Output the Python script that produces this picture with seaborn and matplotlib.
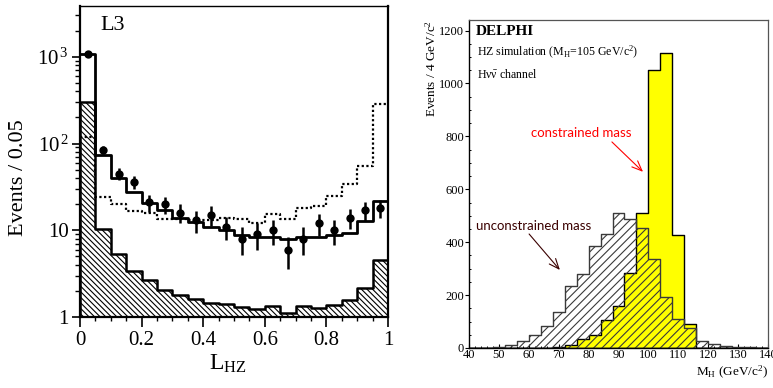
import numpy as np
import matplotlib
matplotlib.use("Agg")
import matplotlib.pyplot as plt
import seaborn as sns
from matplotlib.ticker import MultipleLocator, LogLocator, NullFormatter

# ---------------- Left panel (L3) : L_HZ, bins of 0.05 ----------------
lhz_edges = [0.0, 0.05, 0.1, 0.15, 0.2, 0.25, 0.3, 0.35, 0.4, 0.45, 0.5,
             0.55, 0.6, 0.65, 0.7, 0.75, 0.8, 0.85, 0.9, 0.95, 1.0]
lhz_centers = [0.025, 0.075, 0.125, 0.175, 0.225, 0.275, 0.325, 0.375, 0.425, 0.475,
               0.525, 0.575, 0.625, 0.675, 0.725, 0.775, 0.825, 0.875, 0.925, 0.975]
lhz_background = [304, 10.3, 5.3, 3.4, 2.7, 2.07, 1.78, 1.6, 1.45, 1.41,
                  1.3, 1.25, 1.33, 1.12, 1.34, 1.28, 1.36, 1.56, 2.17, 4.53]
lhz_total_mc = [1080, 74, 40, 27.6, 20.5, 16.9, 13.8, 12.3, 11.0, 10.1,
                8.8, 8.4, 8.4, 7.9, 8.4, 8.3, 8.8, 9.4, 12.8, 21.9]
lhz_signal = [118, 24.5, 20.2, 16.7, 16.0, 13.5, 13.5, 13.2, 13.0, 13.8,
              13.4, 12.0, 15.3, 13.5, 18.0, 18.8, 25, 34, 55.6, 283]
lhz_data = [1070, 85, 45, 36, 21, 20, 16, 13, 15, 11,
            8, 9, 10, 6, 8, 12, 10, 14, 17, 18]
lhz_data_err = [33, 9.2, 6.7, 6.0, 4.6, 4.5, 4.0, 3.6, 3.9, 3.3,
                2.8, 3.0, 3.2, 2.4, 2.8, 3.5, 3.2, 3.7, 4.1, 4.2]
lhz_xticks = [0, 0.2, 0.4, 0.6, 0.8, 1]
lhz_xticklabels = ["0", "0.2", "0.4", "0.6", "0.8", "1"]
lhz_yticks = [1, 10, 100, 1000]
lhz_yticklabels = ["1", "10", r"$\mathregular{10^{\,2}}$", r"$\mathregular{10^{\,3}}$"]

# ---------------- Right panel (DELPHI) : M_H, bins of 4 GeV ----------------
mh_edges = [40, 44, 48, 52, 56, 60, 64, 68, 72, 76, 80, 84, 88, 92, 96, 100,
            104, 108, 112, 116, 120, 124, 128, 132, 136, 140]
mh_centers = [42, 46, 50, 54, 58, 62, 66, 70, 74, 78, 82, 86, 90, 94, 98, 102,
              106, 110, 114, 118, 122, 126, 130, 134, 138]
mh_unconstrained = [0, 0, 5, 10, 28, 50, 84, 135, 233, 278, 384, 432, 510, 488, 453, 336,
                    193, 110, 75, 25, 16, 7, 5, 2, 0]
mh_constrained = [0, 0, 0, 0, 0, 0, 0, 3, 10, 34, 50, 107, 160, 284, 510, 1052,
                  1117, 428, 91, 0, 0, 0, 0, 0, 0]
mh_yticks = [0, 200, 400, 600, 800, 1000, 1200]
mh_xticks = [40, 50, 60, 70, 80, 90, 100, 110, 120, 130, 140]

sns.set_theme(style="ticks")
plt.rcParams.update({
    "font.family": ["Liberation Serif", "DejaVu Serif"],
    "mathtext.fontset": "custom",
    "mathtext.rm": "Liberation Serif",
    "mathtext.it": "Liberation Serif:italic",
    "mathtext.bf": "Liberation Serif:bold",
    "hatch.linewidth": 0.8,
    "hatch.color": "black",
    "axes.edgecolor": "black",
    "axes.labelcolor": "black",
    "text.color": "black",
    "xtick.color": "black",
    "ytick.color": "black",
})

W, H = 773, 388
fig = plt.figure(figsize=(W / 100, H / 100), dpi=100)
ax1 = fig.add_axes([80 / W, 1 - 317 / H, (388 - 80) / W, (317 - 6) / H])
ax2 = fig.add_axes([469 / W, 1 - 348 / H, (768 - 469) / W, (348 - 20) / H])

# ---------- Left panel ----------
sns.histplot(x=lhz_centers, weights=lhz_background, bins=lhz_edges, element="step",
             fill=True, color="black", facecolor="white", edgecolor="black", linewidth=1.8,
             hatch="\\\\\\\\\\\\", ax=ax1)
sns.histplot(x=lhz_centers, weights=lhz_total_mc, bins=lhz_edges, element="step",
             fill=False, color="black", linewidth=2.0, ax=ax1)
sns.histplot(x=lhz_centers, weights=lhz_signal, bins=lhz_edges, element="step",
             fill=False, color="black", linewidth=1.6, linestyle=(0, (1, 1.1)), ax=ax1)
ax1.errorbar(lhz_centers, lhz_data, yerr=lhz_data_err, fmt="none", ecolor="black",
             elinewidth=1.8, capsize=0, zorder=4)
sns.scatterplot(x=lhz_centers, y=lhz_data, color="black", s=36, linewidth=0,
                ax=ax1, zorder=5)

ax1.set_yscale("log")
ax1.set_xlim(0, 1)
ax1.set_ylim(1, 3850)
ax1.set_xticks(lhz_xticks, lhz_xticklabels)
ax1.xaxis.set_minor_locator(MultipleLocator(0.05))
ax1.set_yticks(lhz_yticks, lhz_yticklabels)
ax1.yaxis.set_minor_locator(LogLocator(base=10, subs=np.arange(2, 10) * 1.0, numticks=20))
ax1.yaxis.set_minor_formatter(NullFormatter())
ax1.tick_params(axis="x", which="major", direction="out", length=7, width=1.2,
                labelsize=15, pad=3)
ax1.tick_params(axis="x", which="minor", direction="out", length=3, width=1.0)
ax1.tick_params(axis="y", which="major", direction="out", length=6, width=1.2,
                labelsize=15, pad=2)
ax1.tick_params(axis="y", which="minor", direction="out", length=3.5, width=1.0)
for side in ["left", "bottom", "right"]:
    ax1.spines[side].set_linewidth(1.6)
ax1.spines["top"].set_linewidth(1.0)

ax1.set_xlabel(r"L$_{\mathregular{HZ}}$", fontsize=17)
ax1.xaxis.set_label_coords(0.48, -0.115)
ax1.set_ylabel("Events / 0.05", fontsize=16)
ax1.yaxis.set_label_coords(-0.17, 0.447)
ax1.text(0.065, 0.968, "L3", transform=ax1.transAxes, fontsize=16, va="top", ha="left")

# ---------- Right panel ----------
sns.histplot(x=mh_centers, weights=mh_constrained, bins=mh_edges, element="step",
             fill=True, color="black", facecolor="#ffff00", edgecolor="black",
             linewidth=1.0, ax=ax2)
sns.histplot(x=mh_centers, weights=mh_unconstrained, bins=mh_edges, element="step",
             fill=True, color="#3a3a3a", facecolor=(1, 1, 1, 0), edgecolor="#3a3a3a",
             linewidth=1.0, hatch="////", ax=ax2)

ax2.set_xlim(40, 140)
ax2.set_ylim(0, 1240)
ax2.set_xticks(mh_xticks)
ax2.set_yticks(mh_yticks)
ax2.xaxis.set_minor_locator(MultipleLocator(2))
ax2.yaxis.set_minor_locator(MultipleLocator(50))
ax2.tick_params(axis="x", which="major", direction="in", length=3, width=0.8,
                labelsize=9, pad=1)
ax2.tick_params(axis="x", which="minor", direction="in", length=1.5, width=0.7)
ax2.tick_params(axis="y", which="major", direction="out", length=3, width=0.8,
                labelsize=9, pad=0.5)
ax2.tick_params(axis="y", which="minor", direction="in", length=1.5, width=0.7)
for side in ["left", "bottom"]:
    ax2.spines[side].set_linewidth(1.0)
    ax2.spines[side].set_color("black")
for side in ["top", "right"]:
    ax2.spines[side].set_linewidth(0.9)
    ax2.spines[side].set_color("#555555")

ax2.set_ylabel(r"Events / 4 GeV/c$^{\mathregular{2}}$", fontsize=9.5, loc="top")
ax2.yaxis.set_label_coords(-0.1, 1.0)
ax2.set_xlabel(r"M$_{\mathregular{H}}$ (GeV/c$^{\mathregular{2}}$)", fontsize=9.5, loc="right")
ax2.xaxis.set_label_coords(1.0, -0.05)

ax2.text(0.023, 0.985, "DELPHI", transform=ax2.transAxes, fontsize=11,
         fontweight="bold", va="top", ha="left")
ax2.text(0.027, 0.90, r"HZ simulation (M$_{\mathregular{H}}$=105 GeV/c$^{\mathregular{2}}$)",
         transform=ax2.transAxes, fontsize=8.6, va="center", ha="left")
ax2.text(0.027, 0.835, r"H$\mathregular{\nu\bar{\nu}}$ channel",
         transform=ax2.transAxes, fontsize=8.6, va="center", ha="left")

ax2.text(77.5, 813, "constrained mass", color="#ff0000", fontsize=9.5,
         family=["Lato", "DejaVu Sans"], ha="center", va="center")
ax2.annotate("", xy=(98.2, 666), xytext=(87.8, 779),
             arrowprops=dict(arrowstyle="->,head_length=0.6,head_width=0.25",
                             color="#ff0000", lw=0.8, shrinkA=0, shrinkB=0))
ax2.text(61.7, 461, "unconstrained mass", color="#3a0000", fontsize=9.5,
         family=["Lato", "DejaVu Sans"], ha="center", va="center")
ax2.annotate("", xy=(70.4, 295), xytext=(60.1, 431),
             arrowprops=dict(arrowstyle="->,head_length=0.6,head_width=0.25",
                             color="#3a0000", lw=0.8, shrinkA=0, shrinkB=0))

fig.savefig("out.png", dpi=100)
